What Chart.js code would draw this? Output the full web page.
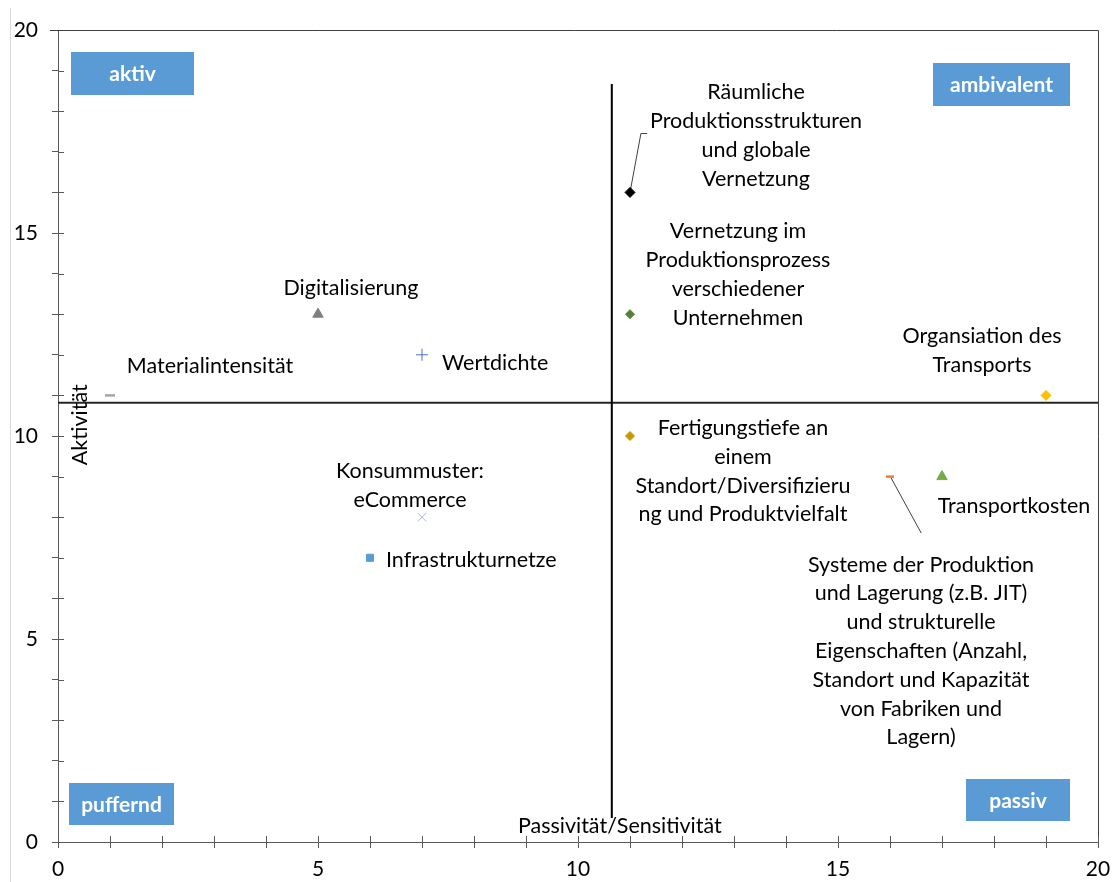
<!DOCTYPE html>
<html>
<head>
<meta charset="utf-8">
<script src="https://cdn.jsdelivr.net/npm/chart.js@4.4.1/dist/chart.umd.min.js"></script>
<style>
  html, body { margin: 0; padding: 0; background: #ffffff; }
  #wrap { width: 1113px; height: 882px; position: relative; }
</style>
</head>
<body>
<div id="wrap"><canvas id="chart" width="1113" height="882"></canvas></div>
<script>
// Factors: passivity/sensitivity (x) versus activity (y)
const factorNames = [
  'Räumliche Produktionsstrukturen und globale Vernetzung',
  'Vernetzung im Produktionsprozess verschiedener Unternehmen',
  'Fertigungstiefe an einem Standort/Diversifizierung und Produktvielfalt',
  'Organsiation des Transports',
  'Transportkosten',
  'Systeme der Produktion und Lagerung',
  'Digitalisierung',
  'Wertdichte',
  'Materialintensität',
  'Konsummuster: eCommerce',
  'Infrastrukturnetze'
];
const passivity = [11, 11, 11, 19, 17, 16, 5, 7, 1, 7, 6];
const activity  = [16, 13, 10, 11, 9, 9, 13, 12, 11, 8, 7];

// Text drawn beside each marker, line by line
const factorLabels = [
  ['Räumliche', 'Produktionsstrukturen', 'und globale', 'Vernetzung'],
  ['Vernetzung im', 'Produktionsprozess', 'verschiedener', 'Unternehmen'],
  ['Fertigungstiefe an', 'einem', 'Standort/Diversifizieru', 'ng und Produktvielfalt'],
  ['Organsiation des', 'Transports'],
  ['Transportkosten'],
  ['Systeme der Produktion', 'und Lagerung (z.B. JIT)', 'und strukturelle', 'Eigenschaften (Anzahl,', 'Standort und Kapazität', 'von Fabriken und', 'Lagern)'],
  ['Digitalisierung'],
  ['Wertdichte'],
  ['Materialintensität'],
  ['Konsummuster:', 'eCommerce'],
  ['Infrastrukturnetze']
];

// Quadrant dividers (data units)
const dividerX = 10.65;
const dividerY = 10.82;
const dividerXSpan = [0.59, 18.67];
const dividerYSpan = [0, 20];

// Leader lines from markers to their labels (data units)
const leaderRaeumlich = [{x: 11, y: 16}, {x: 11.21, y: 17.45}, {x: 11.33, y: 17.45}];
const leaderSysteme = [{x: 16.02, y: 8.97}, {x: 16.6, y: 7.61}];

// Axis tick labels
const tickLabels = [0, 5, 10, 15, 20];

const quadrantNames = ['aktiv', 'ambivalent', 'puffernd', 'passiv'];

// ---- styling ----
const FONT = 'Lato, "Open Sans", sans-serif';
const markerStyles = [
  { style: 'rectRot', color: '#000000', r: 5 },
  { style: 'rectRot', color: '#548235', r: 4.5 },
  { style: 'rectRot', color: '#C99700', r: 4.5 },
  { style: 'rectRot', color: '#FFC000', r: 5 },
  { style: 'triangle', color: '#70AD47', r: 6 },
  { style: 'line', color: '#ED7D31', r: 4 },
  { style: 'triangle', color: '#7F7F7F', r: 6 },
  { style: 'cross', color: '#4472C4', r: 6 },
  { style: 'line', color: '#A5A5A5', r: 5 },
  { style: 'crossRot', color: '#A9B9E2', r: 6 },
  { style: 'rect', color: '#5B9BD5', r: 5 }
];
// label anchor offsets in px relative to the marker: dx, dy (first line), alignment
const labelPlacement = [
  { dx: 126, dy: -100, align: 'center' },
  { dx: 108, dy: -83, align: 'center' },
  { dx: 113, dy: -8, align: 'center' },
  { dx: -64, dy: -59, align: 'center' },
  { dx: 72, dy: 29, align: 'center' },
  { dx: 31, dy: 88, align: 'center' },
  { dx: 33, dy: -26, align: 'center' },
  { dx: 20, dy: 8, align: 'left' },
  { dx: 100, dy: -29, align: 'center' },
  { dx: -12, dy: -46, align: 'center' },
  { dx: 16, dy: 2, align: 'left' }
];
const LINE_H = 28.8;
const LABEL_SIZE = 21.5;
// quadrant badges in px
const quadrantBoxes = [
  { x: 71, y: 52, w: 123, h: 43 },
  { x: 933, y: 63, w: 137, h: 43 },
  { x: 69, y: 783, w: 105, h: 42 },
  { x: 966, y: 779, w: 104, h: 42 }
];

const datasets = factorNames.map((name, i) => ({
  label: name,
  data: [{ x: passivity[i], y: activity[i] }],
  pointStyle: markerStyles[i].style,
  pointRadius: markerStyles[i].r,
  pointHoverRadius: markerStyles[i].r,
  backgroundColor: markerStyles[i].color,
  borderColor: markerStyles[i].color,
  pointBorderWidth: (markerStyles[i].style === 'line') ? 2.5 : 1,
  showLine: false
}));
datasets.push({
  label: 'leader1', data: leaderRaeumlich, showLine: true, pointRadius: 0,
  borderColor: '#404040', borderWidth: 1, fill: false
});
datasets.push({
  label: 'leader2', data: leaderSysteme, showLine: true, pointRadius: 0,
  borderColor: '#404040', borderWidth: 1, fill: false
});
datasets.push({
  label: 'dividerV',
  data: [{ x: dividerX, y: dividerXSpan[0] }, { x: dividerX, y: dividerXSpan[1] }],
  showLine: true, pointRadius: 0, borderColor: '#000000', borderWidth: 2, fill: false
});
datasets.push({
  label: 'dividerH',
  data: [{ x: dividerYSpan[0], y: dividerY }, { x: dividerYSpan[1], y: dividerY }],
  showLine: true, pointRadius: 0, borderColor: '#262626', borderWidth: 2, fill: false
});

const decorations = {
  id: 'decorations',
  beforeDraw(chart) {
    const ctx = chart.ctx;
    ctx.save();
    ctx.fillStyle = '#ffffff';
    ctx.fillRect(0, 0, chart.width, chart.height);
    ctx.strokeStyle = '#d9d9d9';
    ctx.lineWidth = 1;
    ctx.beginPath();
    ctx.moveTo(10.5, 8);
    ctx.lineTo(10.5, chart.height);
    ctx.stroke();
    ctx.restore();
  },
  afterDraw(chart) {
    const ctx = chart.ctx;
    const a = chart.chartArea;
    const xs = chart.scales.x, ys = chart.scales.y;
    ctx.save();
    // frame on top and right
    ctx.strokeStyle = '#404040';
    ctx.lineWidth = 1;
    ctx.beginPath();
    ctx.moveTo(a.left - 8, Math.round(a.top) + 0.5);
    ctx.lineTo(Math.round(a.right) + 0.5, Math.round(a.top) + 0.5);
    ctx.lineTo(Math.round(a.right) + 0.5, a.bottom);
    ctx.stroke();
    // inner halves of the tick marks
    ctx.strokeStyle = '#595959';
    ctx.beginPath();
    for (let v = 1; v < 20; v++) {
      const px = Math.round(xs.getPixelForValue(v)) + 0.5;
      ctx.moveTo(px, a.bottom);
      ctx.lineTo(px, a.bottom - 6);
      const py = Math.round(ys.getPixelForValue(v)) + 0.5;
      ctx.moveTo(a.left, py);
      ctx.lineTo(a.left + 6, py);
    }
    const pr = Math.round(xs.getPixelForValue(20)) + 0.5;
    ctx.moveTo(pr, a.bottom); ctx.lineTo(pr, a.bottom - 6);
    ctx.stroke();
    ctx.restore();
  },
  afterDatasetsDraw(chart) {
    const ctx = chart.ctx;
    const xs = chart.scales.x, ys = chart.scales.y;
    ctx.save();
    // quadrant badges
    ctx.font = 'bold 21px ' + FONT;
    ctx.textAlign = 'center';
    ctx.textBaseline = 'middle';
    quadrantBoxes.forEach((b, i) => {
      ctx.fillStyle = '#5B9BD5';
      ctx.fillRect(b.x, b.y, b.w, b.h);
      ctx.fillStyle = '#ffffff';
      ctx.fillText(quadrantNames[i], b.x + b.w / 2, b.y + b.h / 2 + 1);
    });
    // factor labels
    ctx.fillStyle = '#000000';
    ctx.font = LABEL_SIZE + 'px ' + FONT;
    ctx.textBaseline = 'middle';
    factorLabels.forEach((lines, i) => {
      const px = xs.getPixelForValue(passivity[i]);
      const py = ys.getPixelForValue(activity[i]);
      const p = labelPlacement[i];
      ctx.textAlign = p.align;
      lines.forEach((t, k) => {
        ctx.fillText(t, px + p.dx, py + p.dy + k * LINE_H);
      });
    });
    // axis titles placed along the dividers
    const hy = ys.getPixelForValue(dividerY);
    const vx = xs.getPixelForValue(dividerX);
    ctx.font = '21.5px ' + FONT;
    ctx.textAlign = 'center';
    ctx.fillText('Passivität/Sensitivität', vx + 8, chart.chartArea.bottom - 16);
    ctx.translate(chart.chartArea.left + 22, hy + 22);
    ctx.rotate(-Math.PI / 2);
    ctx.fillText('Aktivität', 0, 0);
    ctx.restore();
  }
};

const axisCommon = {
  type: 'linear',
  min: 0,
  max: 20,
  ticks: {
    stepSize: 1,
    autoSkip: false,
    maxRotation: 0,
    color: '#000000',
    font: { family: FONT, size: 21 },
    callback: (v) => (tickLabels.includes(v) ? String(v) : '')
  },
  grid: {
    drawOnChartArea: false,
    drawTicks: true,
    tickLength: 6,
    color: '#595959'
  },
  border: { color: '#595959', width: 1 }
};

new Chart(document.getElementById('chart'), {
  type: 'scatter',
  data: { datasets },
  options: {
    responsive: false,
    animation: false,
    devicePixelRatio: 1,
    layout: { padding: { top: 30, right: 15, left: 0, bottom: 0 } },
    plugins: { legend: { display: false }, tooltip: { enabled: false } },
    scales: {
      x: Object.assign({}, axisCommon, {
        ticks: Object.assign({}, axisCommon.ticks, { padding: 9 }),
        afterFit: (s) => { s.height = 40; s.paddingRight = 0; s.paddingLeft = 0; }
      }),
      y: Object.assign({}, axisCommon, {
        ticks: Object.assign({}, axisCommon.ticks, { padding: 14 }),
        afterFit: (s) => { s.width = 58; s.paddingTop = 0; s.paddingBottom = 0; }
      })
    }
  },
  plugins: [decorations]
});
</script>
</body>
</html>
